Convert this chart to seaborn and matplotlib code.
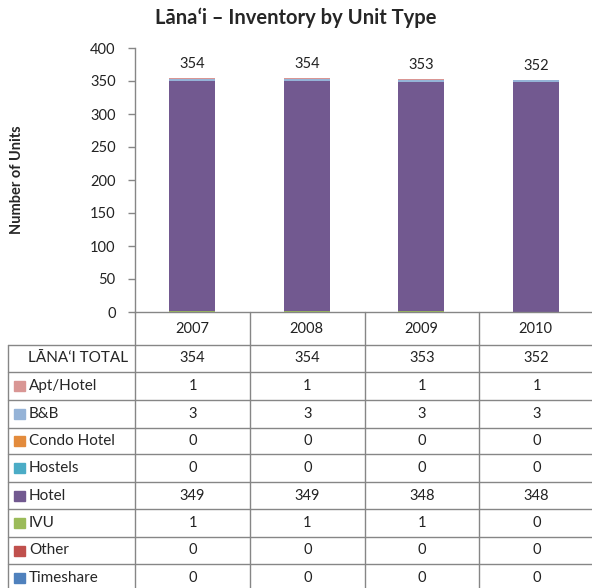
import matplotlib
matplotlib.use("Agg")
import matplotlib.pyplot as plt
import seaborn as sns
from matplotlib.lines import Line2D
from matplotlib.patches import Rectangle

# data
years = ["2007", "2008", "2009", "2010"]
totals = [354, 354, 353, 352]
unit_types = ["Apt/Hotel", "B&B", "Condo Hotel", "Hostels", "Hotel", "IVU", "Other", "Timeshare"]
apt_hotel = [1, 1, 1, 1]
bnb = [3, 3, 3, 3]
condo_hotel = [0, 0, 0, 0]
hostels = [0, 0, 0, 0]
hotel = [349, 349, 348, 348]
ivu = [1, 1, 1, 0]
other = [0, 0, 0, 0]
timeshare = [0, 0, 0, 0]
colors = ["#D99694", "#95B3D7", "#E38B3C", "#4BACC6", "#725990", "#9BBB59", "#C0504D", "#4F81BD"]

series = [apt_hotel, bnb, condo_hotel, hostels, hotel, ivu, other, timeshare]

sns.set_style("white")
plt.rcParams["font.family"] = ["Lato", "DejaVu Sans"]

W, H = 592, 588
fig = plt.figure(figsize=(W / 100, H / 100), dpi=100)

def fx(x):
    return x / W

def fy(y):
    return 1 - y / H

line_c = "#868686"

# plot area in pixels: x 135..593, y 48..312
ax = fig.add_axes([fx(135), fy(312), (593 - 135) / W, (312 - 48) / H])

# stacked bars: Timeshare at the bottom ... Apt/Hotel on top.
# draw cumulative heights from the tallest down so each layer covers the one below
stack = list(zip(unit_types, series, colors))[::-1]
tops = []
cum = [0, 0, 0, 0]
for name, vals, c in stack:
    cum = [a + b for a, b in zip(cum, vals)]
    tops.append((name, list(cum), c))
for name, top, c in tops[::-1]:
    sns.barplot(x=years, y=top, color=c, width=0.4, errorbar=None,
                saturation=1, linewidth=0, ax=ax)

for i, t in enumerate(totals):
    ax.annotate(str(t), (i, cum[i]), xytext=(0, 5), textcoords="offset points",
                ha="center", va="bottom", fontsize=10.5, color="#222222")

ax.set_ylim(0, 400)
ax.set_xlim(-0.5, 3.5)
ax.set_yticks(range(0, 401, 50))
ax.set_xticks(range(4))
ax.set_xticklabels(years, fontsize=10.5, color="#222222")
ax.tick_params(axis="x", length=0, pad=7)
ax.tick_params(axis="y", length=5, width=1, color=line_c, labelsize=10.5,
               labelcolor="#222222", pad=9, direction="out", left=True)
ax.set_xlabel("")
ax.set_ylabel("Number of Units", fontsize=10.5, fontweight="bold")
ax.yaxis.set_label_coords((24 - 135) / (593 - 135), 0.5)
for s in ["top", "right"]:
    ax.spines[s].set_visible(False)
for s in ["left", "bottom"]:
    ax.spines[s].set_color(line_c)
    ax.spines[s].set_linewidth(1)

fig.text(0.5, fy(18), "L\u0101na\u02bbi \u2013 Inventory by Unit Type", ha="center",
         va="center", fontsize=14.5, fontweight="bold")

# table below the chart
col_x = [135, 250, 365, 479, 594]
row_y = [345, 372, 400, 428, 454, 482, 509, 537, 564, 592]

def hline(x0, x1, y):
    fig.add_artist(Line2D([fx(x0), fx(x1)], [fy(y), fy(y)], color=line_c, lw=1))

def vline(x, y0, y1):
    fig.add_artist(Line2D([fx(x), fx(x)], [fy(y0), fy(y1)], color=line_c, lw=1))

for y in row_y[:-1]:
    hline(8, 594, y)
vline(8, 345, 592)
for x in col_x[:-1]:
    vline(x, 312, 592)

row_labels = ["L\u0100NA\u2018I TOTAL"] + unit_types
row_values = [totals] + series
for r, (lab, vals) in enumerate(zip(row_labels, row_values)):
    yc = (row_y[r] + row_y[r + 1]) / 2
    if r == 0:
        fig.text(fx(28), fy(yc), lab, ha="left", va="center", fontsize=11)
    else:
        c = colors[r - 1]
        fig.add_artist(Rectangle((fx(14), fy(yc + 5)), 11 / W, 10 / H, color=c,
                                 transform=fig.transFigure))
        fig.text(fx(29), fy(yc), lab, ha="left", va="center", fontsize=11)
    for j, v in enumerate(vals):
        xc = (col_x[j] + col_x[j + 1]) / 2
        fig.text(fx(xc), fy(yc), str(v), ha="center", va="center", fontsize=10.5,
                 color="#222222")

fig.savefig("out.png", dpi=100)
